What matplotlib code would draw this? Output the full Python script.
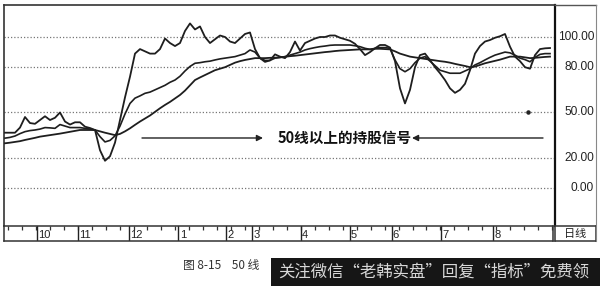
import numpy as np
import matplotlib
matplotlib.use("Agg")
import matplotlib.pyplot as plt
from matplotlib.transforms import blended_transform_factory

plt.rcParams['font.family'] = ['Liberation Sans', 'Noto Sans CJK SC', 'DejaVu Sans']

fast_line = [36.6, 36.6, 36.6, 40, 47, 43, 42.5, 45, 47.5, 45, 46.5, 50, 44, 42, 43.5, 43.5, 40.6, 39.7, 38.4, 25,
             18, 21, 30, 45, 60, 73.7, 89, 92, 90.5, 89, 89, 92, 99, 96, 94, 96, 104, 109, 105, 107,
             100, 96, 98.5, 101, 100, 97, 96, 99, 102, 103, 92, 86, 83.5, 84.5, 88.5, 87, 86, 90, 97, 91,
             96, 97.5, 99, 100, 100, 101, 101, 99.5, 98.5, 97.5, 95.5, 92, 88, 90, 92.5, 94.7, 94.7, 93, 84, 66,
             56, 65, 80, 88, 89, 84.8, 80, 76, 71.5, 66, 63, 65, 69, 78, 89, 94, 97, 98, 99.5, 100.5,
             102, 93.6, 87, 84, 80, 79, 88, 92, 92.5, 92.7]
mid_line = [33, 33.5, 34.4, 36, 37.3, 38, 38.4, 39, 40, 39.8, 39.5, 42, 41, 40, 40, 40, 39.5, 39, 38.4, 34,
            30.5, 31.5, 34.5, 41, 49, 56, 59.5, 61, 62.7, 63.5, 65, 66.5, 68, 70, 71.5, 74, 77.5, 80.5, 82.6, 83,
            83.6, 84, 84.8, 85.5, 86, 86.5, 87, 88, 89, 91.4, 90, 86, 84.5, 84.5, 86, 86.5, 87, 88, 89, 90,
            91.4, 92.3, 93, 93.6, 94, 94.5, 94.7, 94.7, 94.7, 94.7, 94.2, 93.6, 92.5, 91.8, 92.5, 93, 93, 92.5, 84.8, 79,
            77, 79, 83, 86, 87, 84, 81, 78, 77, 76, 76, 76, 77.5, 79, 81.5, 83, 84.8, 86.5, 88, 89,
            90, 89.5, 88, 86, 85, 83.6, 86.5, 88.5, 89, 89]
slow_line = [29.6, 30, 30.5, 31, 31.8, 32.5, 33.2, 34, 34.5, 35, 35.5, 36, 36.6, 37.2, 37.8, 38.4, 38.4, 38.4, 38.4, 37.5,
             36.6, 35.8, 35, 35.8, 37.5, 39.5, 41.8, 44, 46, 48, 50.4, 52.8, 55, 57, 59.3, 61.6, 64.5, 68, 71.5, 73.2,
             74.8, 76.4, 78, 79, 80, 81.5, 83, 84, 84.8, 85.4, 86, 86, 86, 86.2, 86.3, 86.5, 86.9, 87.3, 87.6, 88,
             88.4, 88.8, 89.2, 89.6, 90, 90.3, 90.7, 91, 91.2, 91.4, 91.6, 91.8, 91.8, 91.8, 92.2, 92.2, 92, 91.8, 90.5, 89,
             88, 87, 86.5, 86, 85.5, 85, 84.5, 84, 83.6, 83, 82.2, 81.5, 80.8, 80, 80.4, 81.5, 82.6, 83.4, 84.2, 85,
             86, 87, 87, 87, 86.5, 86, 86.2, 86.5, 86.8, 87]
dot_index = [104.6]
dot_value = [50]

ytick_values = [100, 80, 50, 20, 0]
ytick_labels = ['100.00', '80.00', '50.00', '20.00', '0.00']
month_pos = [6.4, 14.6, 24.8, 34.8, 44.4, 49.6, 59.4, 69.2, 77.6, 87.6, 98.0]
month_labels = ['10', '11', '12', '1', '2', '3', '4', '5', '6', '7', '8']

signal_text = '50线以上的持股信号'
caption_text = '图 8-15    50 线'
watermark_text = '关注微信“老韩实盘”回复“指标”免费领'

# ---- figure ----
W, H = 600, 286
fig = plt.figure(figsize=(W / 100, H / 100), dpi=100)
fig.patch.set_facecolor('white')

ax = fig.add_axes([4 / W, 60 / H, 551 / W, 221 / H])
x = np.arange(len(fast_line))
XMIN, XMAX = -0.2, 110
ax.set_xlim(XMIN, XMAX)
ax.set_ylim(-25.2, 121.2)

for v in ytick_values:
    ax.axhline(v, color='#777777', lw=0.9, ls=(0, (1, 1.6)), zorder=1)

lc = '#1e1e1e'
ax.plot(x, slow_line, color=lc, lw=1.3, zorder=3)
ax.plot(x, mid_line, color=lc, lw=1.2, zorder=3)
ax.plot(x, fast_line, color=lc, lw=1.3, zorder=3)
ax.scatter(dot_index, dot_value, s=5, color='#222222', zorder=4)

ax.set_xticks([])
ax.set_yticks([])
for s in ['left', 'top']:
    ax.spines[s].set_linewidth(1.2)
    ax.spines[s].set_color('#333333')
ax.spines['right'].set_linewidth(1.6)
ax.spines['right'].set_color('#111111')
ax.spines['bottom'].set_visible(False)

# right-side value labels
tr = blended_transform_factory(fig.transFigure, ax.transData)
for v, lab in zip(ytick_values, ytick_labels):
    ax.text(594 / W, v, lab, transform=tr, ha='right', va='center', fontsize=8.6, color='#222222')

# right panel frame
fig.add_artist(plt.Line2D([555 / W, 596 / W], [1 - 5 / H, 1 - 5 / H], color='#555555', lw=1.0))
fig.add_artist(plt.Line2D([596 / W, 596 / W], [1 - 5 / H, 45 / H], color='#888888', lw=0.8))

# annotations
yarr = 33.1
ax.annotate('', xy=(51.6, yarr), xytext=(27.4, yarr),
            arrowprops=dict(arrowstyle='-|>', color='#222222', lw=1.0, mutation_scale=9,
                            shrinkA=0, shrinkB=0))
ax.annotate('', xy=(81.4, yarr), xytext=(107.6, yarr),
            arrowprops=dict(arrowstyle='-|>', color='#222222', lw=1.0, mutation_scale=9,
                            shrinkA=0, shrinkB=0))
ax.text(54.6, yarr, signal_text, ha='left', va='center', fontsize=10.5, fontweight='bold',
        family=['Noto Sans CJK SC', 'DejaVu Sans'], color='#111111')

# bottom time strip
axs = fig.add_axes([4 / W, 45 / H, 549 / W, 15 / H])
axs.set_xlim(XMIN, XMAX)
axs.set_ylim(0, 1)
axs.set_yticks([])
axs.set_xticks(np.arange(0.6, 110, 2.8), minor=True)
axs.set_xticks([])
axs.tick_params(axis='x', which='minor', top=True, bottom=False, direction='in', length=3,
                width=0.9, color='#333333')
for p, lab in zip(month_pos, month_labels):
    axs.axvline(p, color='#222222', lw=1.0)
    axs.text(p + 0.25, 0.42, lab, ha='left', va='center', fontsize=8, color='#222222')
for s in axs.spines.values():
    s.set_linewidth(1.1)
    s.set_color('#333333')

axd = fig.add_axes([555 / W, 45 / H, 41 / W, 15 / H])
axd.set_xticks([])
axd.set_yticks([])
for s in axd.spines.values():
    s.set_linewidth(1.1)
    s.set_color('#333333')
axd.text(0.5, 0.45, '日线', ha='center', va='center', fontsize=8,
         family=['Noto Sans CJK SC', 'DejaVu Sans'], color='#222222', transform=axd.transAxes)

# caption and watermark
fig.text(183 / W, 1 - 265 / H, caption_text, ha='left', va='center', fontsize=8.5,
         family=['Noto Sans CJK SC', 'DejaVu Sans'], color='#333333')
fig.patches.append(plt.Rectangle((271 / W, 0), 329 / W, 28 / H, transform=fig.transFigure,
                                 facecolor='#161616', edgecolor='none', zorder=5))
fig.text(278 / W, 1 - 272 / H, watermark_text, ha='left', va='center', fontsize=11.8,
         family=['Noto Sans CJK SC', 'DejaVu Sans'], color='#d8d8d8', zorder=6)

fig.savefig('out.png', dpi=100, facecolor='white')
